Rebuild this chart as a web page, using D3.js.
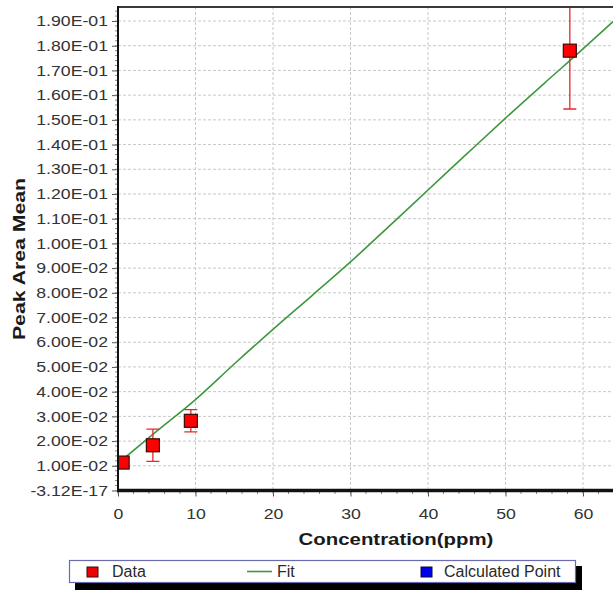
<!DOCTYPE html>
<html>
<head>
<meta charset="utf-8">
<script src="https://cdn.jsdelivr.net/npm/d3@7"></script>
<style>
  body { margin: 0; background: #fff; }
  svg { display: block; font-family: "Liberation Sans", Arial, sans-serif; }
</style>
</head>
<body>
<svg id="chart" width="613" height="590"></svg>
<script>
    // data
    var concentration = [0.6, 4.5, 9.4, 58.3],
        peakMean = [0.0113, 0.0183, 0.0282, 0.178],
        peakErr = [0.0, 0.0065, 0.0045, 0.0236];

    var fitConc = [0, 5, 10, 15, 20, 25, 30, 35, 40, 45, 50, 55, 60, 65],
        fitPeak = [0.0110, 0.0240, 0.0368, 0.0512, 0.0652, 0.0788, 0.0925, 0.1070, 0.1216, 0.1362, 0.1507, 0.1648, 0.1787, 0.1930];

    var xTicks = [0, 10, 20, 30, 40, 50, 60],
        yTicks = [0, 0.01, 0.02, 0.03, 0.04, 0.05, 0.06, 0.07, 0.08, 0.09, 0.10,
                  0.11, 0.12, 0.13, 0.14, 0.15, 0.16, 0.17, 0.18, 0.19],
        yTickLabels = ["-3.12E-17", "1.00E-02", "2.00E-02", "3.00E-02", "4.00E-02", "5.00E-02",
                       "6.00E-02", "7.00E-02", "8.00E-02", "9.00E-02", "1.00E-01", "1.10E-01",
                       "1.20E-01", "1.30E-01", "1.40E-01", "1.50E-01", "1.60E-01", "1.70E-01",
                       "1.80E-01", "1.90E-01"];

    var legendNames = ["Data", "Fit", "Calculated Point"];

    var svg = d3.select("#chart"),
        plotLeft = 118,
        plotTop = 7,
        plotBottom = 490.5,
        plotRight = 613,
        stretch = 1.22;

    var x = d3.scaleLinear().domain([0, 65]).range([plotLeft, plotLeft + 77.5 * 6.5]),
        y = d3.scaleLinear().domain([0, 0.19567]).range([plotBottom, plotTop]);

    svg.append("rect").attr("width", 613).attr("height", 590).attr("fill", "#fff");

    svg.append("defs").append("clipPath").attr("id", "plotClip")
        .append("rect")
        .attr("x", plotLeft).attr("y", plotTop)
        .attr("width", plotRight - plotLeft).attr("height", plotBottom - plotTop);

    // Grid
    var grid = svg.append("g").attr("class", "grid");
    grid.selectAll("line.h")
        .data(yTicks.slice(1))
        .enter().append("line")
        .attr("class", "h")
        .attr("x1", plotLeft).attr("x2", plotRight)
        .attr("y1", function (d) { return y(d); })
        .attr("y2", function (d) { return y(d); })
        .attr("stroke", "#c8c8c8")
        .attr("stroke-width", 1)
        .attr("stroke-dasharray", "3,2");

    grid.selectAll("line.v")
        .data(xTicks.slice(1))
        .enter().append("line")
        .attr("class", "v")
        .attr("y1", plotTop).attr("y2", plotBottom)
        .attr("x1", function (d) { return x(d); })
        .attr("x2", function (d) { return x(d); })
        .attr("stroke", "#c8c8c8")
        .attr("stroke-width", 1)
        .attr("stroke-dasharray", "3,2");

    var plot = svg.append("g").attr("clip-path", "url(#plotClip)");

    // Fit line
    plot.append("path")
        .datum(fitConc.map(function (c, i) { return [c, fitPeak[i]]; }))
        .attr("fill", "none")
        .attr("stroke", "#3f983f")
        .attr("stroke-width", 1.6)
        .attr("d", d3.line()
            .x(function (d) { return x(d[0]); })
            .y(function (d) { return y(d[1]); })
            .curve(d3.curveMonotoneX));

    // Error bars
    var bars = plot.selectAll("g.err")
        .data(concentration.map(function (c, i) { return { c: c, m: peakMean[i], e: peakErr[i] }; })
            .filter(function (d) { return d.e > 0; }))
        .enter().append("g")
        .attr("class", "err");

    bars.append("line")
        .attr("x1", function (d) { return x(d.c); })
        .attr("x2", function (d) { return x(d.c); })
        .attr("y1", function (d) { return y(d.m - d.e); })
        .attr("y2", function (d) { return y(d.m + d.e); })
        .attr("stroke", "#e8262c").attr("stroke-width", 1.3);

    [-1, 1].forEach(function (s) {
        bars.append("line")
            .attr("x1", function (d) { return x(d.c) - 6.5; })
            .attr("x2", function (d) { return x(d.c) + 6.5; })
            .attr("y1", function (d) { return y(d.m + s * d.e); })
            .attr("y2", function (d) { return y(d.m + s * d.e); })
            .attr("stroke", "#e8262c").attr("stroke-width", 1.3);
    });

    // Data markers
    plot.selectAll("rect.marker")
        .data(concentration)
        .enter().append("rect")
        .attr("class", "marker")
        .attr("x", function (d) { return x(d) - 6.5; })
        .attr("y", function (d, i) { return y(peakMean[i]) - 6.5; })
        .attr("width", 13).attr("height", 13)
        .attr("fill", "#ff0000")
        .attr("stroke", "#3a0a0a")
        .attr("stroke-width", 1.2);

    // Axes
    var yAxis = svg.append("g")
        .attr("transform", "translate(" + plotLeft + ",0)")
        .call(d3.axisLeft(y)
            .tickValues(yTicks)
            .tickFormat(function (d, i) { return yTickLabels[i]; })
            .tickSize(6));
    yAxis.select(".domain").remove();
    yAxis.selectAll("line").attr("stroke", "#555");
    yAxis.selectAll("text")
        .attr("x", -10 / stretch)
        .attr("transform", "scale(" + stretch + ",1)")
        .attr("fill", "#333")
        .style("font-size", "14.5px");

    var yMinor = d3.range(0, 0.1956, 0.002);
    svg.append("g").selectAll("line")
        .data(yMinor)
        .enter().append("line")
        .attr("x1", plotLeft - 3).attr("x2", plotLeft)
        .attr("y1", function (d) { return y(d); })
        .attr("y2", function (d) { return y(d); })
        .attr("stroke", "#888").attr("stroke-width", 1);

    var xAxis = svg.append("g")
        .attr("transform", "translate(0," + plotBottom + ")")
        .call(d3.axisBottom(x).tickValues(xTicks).tickFormat(d3.format("d")).tickSize(6));
    xAxis.select(".domain").remove();
    xAxis.selectAll("line").attr("stroke", "#555");
    xAxis.selectAll("text")
        .attr("y", 18)
        .attr("dy", "0.71em")
        .attr("transform", "scale(" + stretch + ",1)")
        .attr("fill", "#333")
        .style("font-size", "14.5px");

    svg.append("g").selectAll("line")
        .data(d3.range(0, 65, 2))
        .enter().append("line")
        .attr("x1", function (d) { return x(d); })
        .attr("x2", function (d) { return x(d); })
        .attr("y1", plotBottom).attr("y2", plotBottom + 3.5)
        .attr("stroke", "#888").attr("stroke-width", 1);

    // frame lines
    svg.append("line")
        .attr("x1", plotLeft).attr("x2", plotRight).attr("y1", plotTop).attr("y2", plotTop)
        .attr("stroke", "#3a3a3a").attr("stroke-width", 2);
    svg.append("line")
        .attr("x1", plotLeft).attr("x2", plotLeft).attr("y1", plotTop - 1).attr("y2", plotBottom + 1)
        .attr("stroke", "#111").attr("stroke-width", 2);
    svg.append("line")
        .attr("x1", plotLeft - 1).attr("x2", plotRight).attr("y1", plotBottom).attr("y2", plotBottom)
        .attr("stroke", "#111").attr("stroke-width", 3.5);

    // Axis titles
    svg.append("text")
        .attr("transform", "translate(25,259) rotate(-90) scale(1.25,1)")
        .attr("text-anchor", "middle")
        .attr("font-weight", "bold")
        .style("font-size", "17px")
        .attr("fill", "#1a1a1a")
        .text("Peak Area Mean");

    svg.append("text")
        .attr("transform", "translate(396,545) scale(1.2,1)")
        .attr("text-anchor", "middle")
        .attr("font-weight", "bold")
        .style("font-size", "17px")
        .attr("fill", "#1a1a1a")
        .text("Concentration(ppm)");

    // Legend
    var legend = svg.append("g");
    legend.append("rect")
        .attr("x", 75).attr("y", 566).attr("width", 507).attr("height", 30)
        .attr("fill", "#000");
    legend.append("rect")
        .attr("x", 69.5).attr("y", 560.5).attr("width", 506).attr("height", 22)
        .attr("fill", "#fff").attr("stroke", "#6b6bb0").attr("stroke-width", 1.2);

    legend.append("rect")
        .attr("x", 87).attr("y", 567).attr("width", 11).attr("height", 10)
        .attr("fill", "#ee0000").attr("stroke", "#3a0a0a").attr("stroke-width", 1);
    legend.append("line")
        .attr("x1", 247).attr("x2", 272).attr("y1", 571.5).attr("y2", 571.5)
        .attr("stroke", "#3f983f").attr("stroke-width", 1.6);
    legend.append("rect")
        .attr("x", 421).attr("y", 567).attr("width", 11).attr("height", 10)
        .attr("fill", "#0000ee").attr("stroke", "#0a0a3a").attr("stroke-width", 1);

    legend.selectAll("text")
        .data(legendNames)
        .enter().append("text")
        .attr("x", function (d, i) { return [112, 277, 444][i]; })
        .attr("y", 577)
        .attr("fill", "#2a2a2a")
        .style("font-size", "16px")
        .text(function (d) { return d; });
</script>
</body>
</html>
